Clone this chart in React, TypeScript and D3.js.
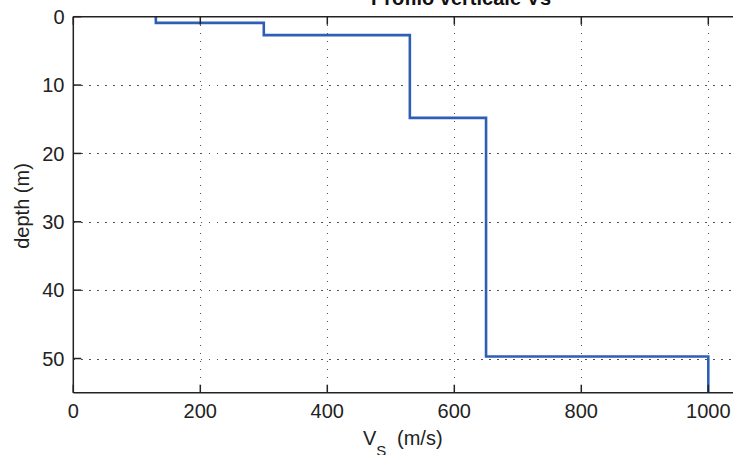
import React from "react";
import * as d3 from "d3";

// Step profile: shear-wave velocity (m/s) for each layer and its depth bounds (m)
const velocities = [130, 300, 530, 650, 1000];
const layerTops = [0, 0.9, 2.7, 14.8, 49.7];
const layerBottoms = [0.9, 2.7, 14.8, 49.7, 55];
const xTicks = [0, 200, 400, 600, 800, 1000];
const yTicks = [0, 10, 20, 30, 40, 50];
const titleText = "Profilo verticale Vs";
const yLabelText = "depth (m)";

const W = 733;
const H = 455;
const left = 73.3;
const top = 16.7;
const bottom = 392.7;

export default function App() {
  const x = d3.scaleLinear().domain([0, 1200]).range([left, left + 1200 * 0.635]);
  const y = d3.scaleLinear().domain([0, 55]).range([top, bottom]);

  const pts: [number, number][] = [];
  velocities.forEach((v, i) => {
    pts.push([v, layerTops[i]]);
    pts.push([v, layerBottoms[i]]);
  });
  const line = d3
    .line<[number, number]>()
    .x((d) => x(d[0]))
    .y((d) => y(d[1]));

  const right = x(1200);
  const font = "'Liberation Sans', Arial, Helvetica, sans-serif";
  const gridColor = "#555";
  const tickLen = 8;

  return (
    <svg
      width={W}
      height={H}
      style={{ position: "fixed", left: 0, top: 0, background: "#fff" }}
      fontFamily={font}
    >
      <rect x={0} y={0} width={W} height={H} fill="#fff" />
      {/* grid */}
      {xTicks
        .filter((t) => t !== 0)
        .map((t) => (
          <line
            key={"gx" + t}
            x1={Math.round(x(t)) + 0.5}
            x2={Math.round(x(t)) + 0.5}
            y1={top}
            y2={bottom}
            stroke={gridColor}
            strokeWidth={1.2}
            strokeDasharray="1.2 6.8"
            shapeRendering="crispEdges"
          />
        ))}
      {yTicks
        .filter((t) => t !== 0)
        .map((t) => (
          <line
            key={"gy" + t}
            x1={left}
            x2={right}
            y1={Math.round(y(t)) + 0.5}
            y2={Math.round(y(t)) + 0.5}
            stroke={gridColor}
            strokeWidth={1.2}
            strokeDasharray="1.2 6.8"
            shapeRendering="crispEdges"
          />
        ))}
      {/* data */}
      <path d={line(pts) || ""} fill="none" stroke="#2f5fb5" strokeWidth={2.6} />
      {/* axes box */}
      <line x1={left} x2={right} y1={top} y2={top} stroke="#222" strokeWidth={1.5} />
      <line x1={left} x2={right} y1={bottom} y2={bottom} stroke="#222" strokeWidth={1.5} />
      <line x1={left} x2={left} y1={top} y2={bottom} stroke="#222" strokeWidth={1.5} />
      {/* x ticks */}
      {xTicks.map((t) => (
        <g key={"xt" + t}>
          <line x1={x(t)} x2={x(t)} y1={bottom} y2={bottom - tickLen} stroke="#222" strokeWidth={1.5} />
          <line x1={x(t)} x2={x(t)} y1={top} y2={top + tickLen} stroke="#222" strokeWidth={1.5} />
          <text x={x(t)} y={417.5} textAnchor="middle" fontSize={20} fill="#222">
            {t}
          </text>
        </g>
      ))}
      {/* y ticks */}
      {yTicks.map((t) => (
        <g key={"yt" + t}>
          <line x1={left} x2={left + tickLen} y1={y(t)} y2={y(t)} stroke="#222" strokeWidth={1.5} />
          <text x={64.5} y={y(t) + 7.2} textAnchor="end" fontSize={20} fill="#222">
            {t}
          </text>
        </g>
      ))}
      {/* labels */}
      <text
        transform="translate(29,206) rotate(-90)"
        textAnchor="middle"
        fontSize={20}
        fill="#222"
      >
        {yLabelText}
      </text>
      <text y={445} fontSize={20} fill="#222">
        <tspan x={363}>V</tspan>
        <tspan fontSize={15} dy={11}>S</tspan>
        <tspan x={397} dy={-11}>(m/s)</tspan>
      </text>
      <text x={461} y={5} textAnchor="middle" fontSize={20} fontWeight="bold" fill="#111">
        {titleText}
      </text>
    </svg>
  );
}
